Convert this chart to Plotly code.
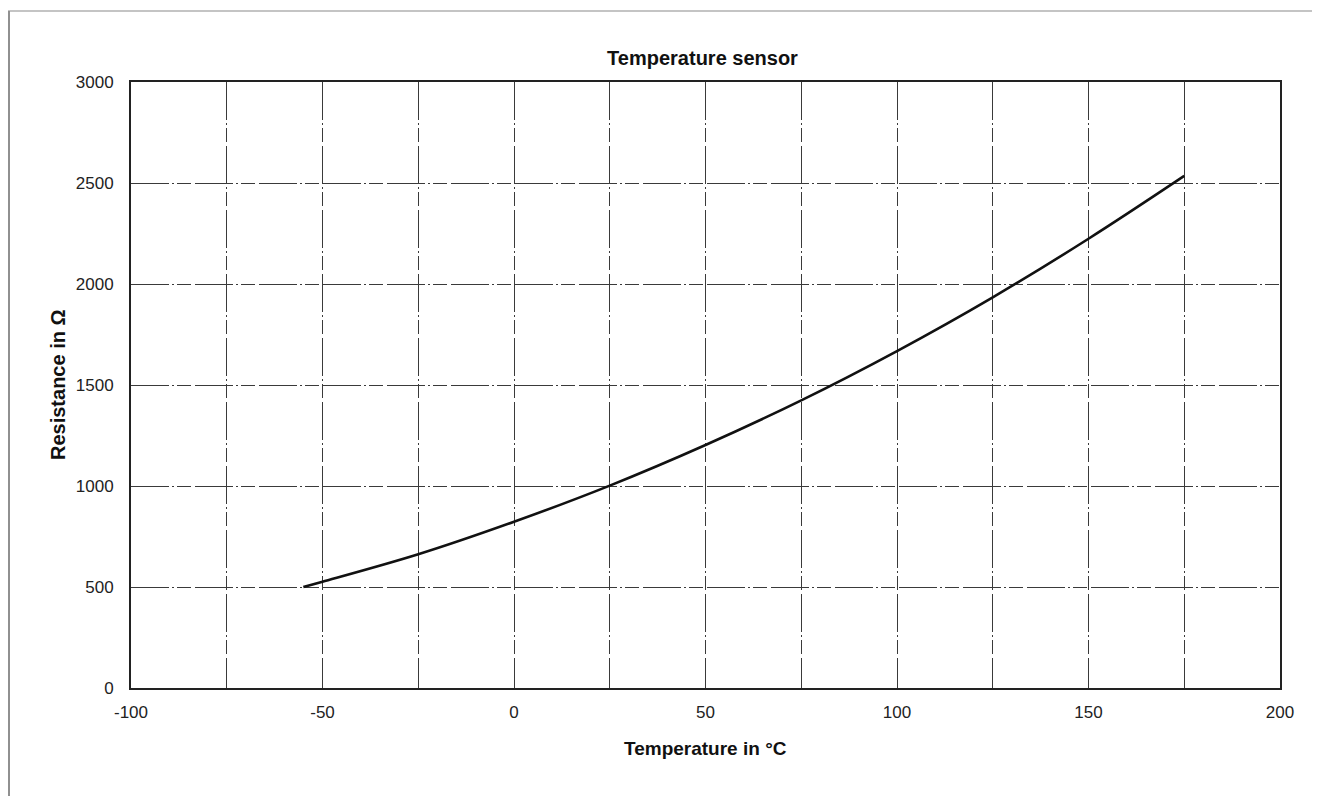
import plotly.graph_objects as go

# Data
temperature_c = [-55, -50, -25, 0, 25, 50, 75, 100, 125, 150, 175]
resistance_ohm = [500, 526, 662, 823, 1002, 1203, 1424, 1668, 1934, 2224, 2535]

x_tick_vals = [-100, -50, 0, 50, 100, 150, 200]
x_tick_text = ["-100", "-50", "0", "50", "100", "150", "200"]
y_tick_vals = [0, 500, 1000, 1500, 2000, 2500, 3000]
y_tick_text = ["0", "500", "1000", "1500", "2000", "2500", "3000"]

# geometry (figure pixels; page body adds an 8px offset)
W, H = 1320, 796
L, R, T, B = 123, 48, 74, 116
PW, PH = W - L - R, H - T - B

fig = go.Figure()
fig.add_trace(go.Scatter(
    x=temperature_c, y=resistance_ohm, mode="lines",
    line=dict(color="#111111", width=2.6, shape="spline", smoothing=1.0),
    showlegend=False, hoverinfo="skip",
))

FONT = "Liberation Sans, Arial, sans-serif"
tick_font = dict(family=FONT, size=17, color="#222222")
grid_dash = "38px,3px,2px,3px,14px,4px"

fig.update_layout(
    width=W, height=H,
    margin=dict(l=L, r=R, t=T, b=B),
    paper_bgcolor="white", plot_bgcolor="white",
    title=dict(text="<b>Temperature sensor</b>", x=(L + PW / 2 - 3) / W, xanchor="center",
               y=1 - 50 / H, yanchor="middle",
               font=dict(family=FONT, size=20, color="#111111")),
    xaxis=dict(range=[-100, 200], tickvals=x_tick_vals, ticktext=x_tick_text,
               showgrid=True, gridcolor="#3a3a3a", gridwidth=1, griddash=grid_dash,
               minor=dict(dtick=25, tick0=-100, showgrid=True, gridcolor="#3a3a3a",
                          gridwidth=1, griddash=grid_dash),
               zeroline=False, showline=True, linecolor="#222222", linewidth=2, mirror=True,
               ticks="", ticklabelstandoff=8, tickfont=tick_font, fixedrange=True),
    yaxis=dict(range=[0, 3000], tickvals=y_tick_vals, ticktext=y_tick_text,
               showgrid=True, gridcolor="#3a3a3a", gridwidth=1, griddash=grid_dash,
               zeroline=False, showline=True, linecolor="#222222", linewidth=2, mirror=True,
               ticks="", ticklabelstandoff=12, tickfont=tick_font, fixedrange=True),
    annotations=[
        dict(text="<b>Temperature in °C</b>", xref="paper", yref="paper",
             x=0.5, y=-60 / PH, xanchor="center", yanchor="middle",
             showarrow=False, font=dict(family=FONT, size=19, color="#111111")),
        dict(text="<b>Resistance in Ω</b>", xref="paper", yref="paper",
             x=-(L - 50) / PW, y=(680 - 377) / PH,
             xanchor="center", yanchor="middle", textangle=-90, showarrow=False,
             font=dict(family=FONT, size=20, color="#111111")),
    ],
    shapes=[
        # outer scanned page frame
        dict(type="line", xref="paper", yref="paper", x0=-L / PW, x1=(W - L) / PW,
             y0=(PH + T - 3) / PH, y1=(PH + T - 3) / PH, line=dict(color="#b0b0b0", width=1.5)),
        dict(type="line", xref="paper", yref="paper", x0=-(L - 1) / PW, x1=-(L - 1) / PW,
             y0=(PH + T - 3) / PH, y1=-B / PH, line=dict(color="#909090", width=2)),
    ],
)

fig.write_html("out.html")
